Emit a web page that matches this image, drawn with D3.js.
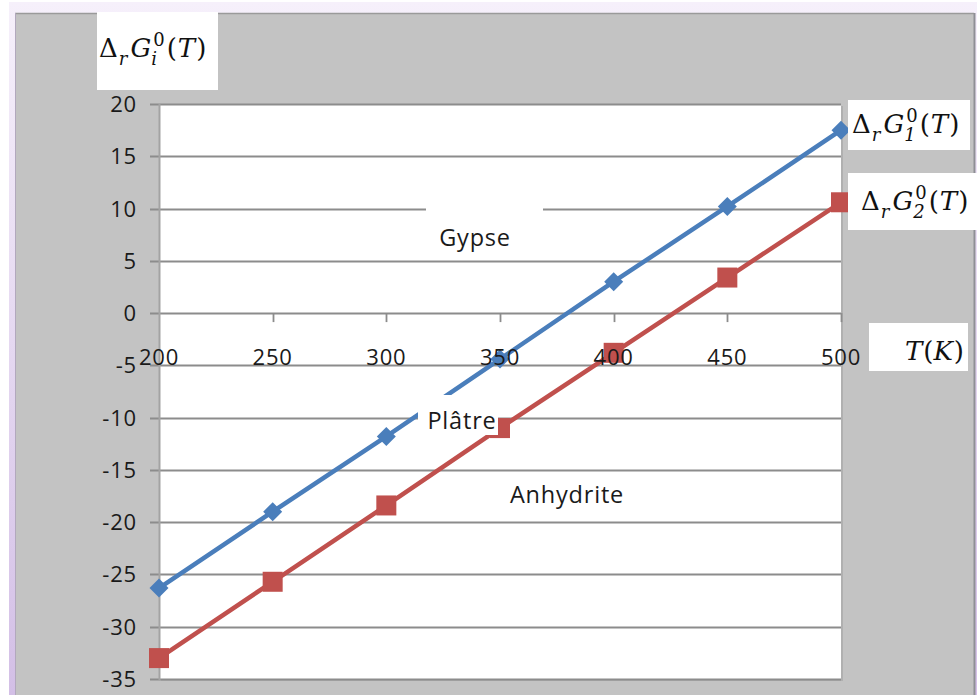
<!DOCTYPE html>
<html><head><meta charset="utf-8">
<script src="https://cdn.jsdelivr.net/npm/d3@7"></script>
<style>html,body{margin:0;padding:0;background:#fff;}svg{display:block;}</style>
</head><body>
<svg id="c" width="977" height="695"></svg>
<script>
// ---- data ----
const temperatures = [200, 250, 300, 350, 400, 450, 500];
const deltaG1 = [-26.3, -19.0, -11.8, -4.4, 3.0, 10.2, 17.5];
const deltaG2 = [-33.0, -25.7, -18.4, -11.0, -3.8, 3.4, 10.6];
const yTickValues = [-35, -30, -25, -20, -15, -10, -5, 0, 5, 10, 15, 20];
const xTickValues = [200, 250, 300, 350, 400, 450, 500];
const regionLabels = ["Gypse", "Plâtre", "Anhydrite"];

const svg = d3.select("#c");
const W = 977, H = 695;
const plot = {left: 159, right: 841, top: 104, bottom: 679};
const x = d3.scaleLinear().domain([200, 500]).range([plot.left, plot.right]);
const y = d3.scaleLinear().domain([-35, 20]).range([plot.bottom, plot.top]);

const tickFont = "'Open Sans', sans-serif";
const mathFont = "'DejaVu Serif', serif";

// frame
const defs = svg.append("defs");
const lg = defs.append("linearGradient").attr("id", "topg").attr("x1", 0).attr("y1", 0).attr("x2", 0).attr("y2", 1);
lg.append("stop").attr("offset", "0").attr("stop-color", "#f6f0fb");
lg.append("stop").attr("offset", "1").attr("stop-color", "#d3bfe6");
svg.append("rect").attr("x", 9).attr("y", 2).attr("width", W - 9).attr("height", H - 2).attr("fill", "url(#topg)");
svg.append("rect").attr("x", 15).attr("y", 13).attr("width", 959).attr("height", H - 13).attr("fill", "#c3c3c3");
svg.append("line").attr("x1", 15).attr("x2", 974).attr("y1", 13.5).attr("y2", 13.5).attr("stroke", "#9a9a9a").attr("stroke-width", 1.5);
svg.append("line").attr("x1", 974.5).attr("x2", 974.5).attr("y1", 13).attr("y2", H).attr("stroke", "#8f8f96").attr("stroke-width", 2);
svg.append("line").attr("x1", 15.5).attr("x2", 15.5).attr("y1", 13).attr("y2", H).attr("stroke", "#b2a8bd").attr("stroke-width", 1);

// plot area
svg.append("rect").attr("x", plot.left + 2).attr("y", plot.top + 2).attr("width", plot.right - plot.left).attr("height", plot.bottom - plot.top)
  .attr("fill", "#9d9d9d").attr("opacity", 0.5);
svg.append("rect").attr("x", plot.left).attr("y", plot.top).attr("width", plot.right - plot.left).attr("height", plot.bottom - plot.top).attr("fill", "#fff");

// gridlines + y ticks
const grid = svg.append("g");
grid.selectAll("line.g").data(yTickValues).join("line")
  .attr("x1", plot.left - 9).attr("x2", plot.right)
  .attr("y1", d => Math.round(y(d)) + 0.5).attr("y2", d => Math.round(y(d)) + 0.5)
  .attr("stroke", "#8c8c8c").attr("stroke-width", 1.8);
// y axis line
svg.append("line").attr("x1", plot.left + 0.5).attr("x2", plot.left + 0.5).attr("y1", plot.top).attr("y2", plot.bottom + 1)
  .attr("stroke", "#a3a3a3").attr("stroke-width", 2);
// x axis ticks (axis sits at 0)
svg.append("g").selectAll("line").data(xTickValues.slice(1)).join("line")
  .attr("x1", d => Math.round(x(d)) + 0.5).attr("x2", d => Math.round(x(d)) + 0.5)
  .attr("y1", y(0)).attr("y2", y(0) + 9)
  .attr("stroke", "#8c8c8c").attr("stroke-width", 1.8);

// y tick labels
svg.append("g").selectAll("text").data(yTickValues).join("text")
  .attr("x", 137).attr("y", d => y(d) + 8)
  .attr("text-anchor", "end").attr("font-family", tickFont).attr("font-size", 22).attr("letter-spacing", 0.8)
  .attr("fill", "#1a1a1a").text(d => d);

// series
const blue = "#4a7ebb", red = "#c0504d";
const line = d3.line().x((d, i) => x(temperatures[i])).y(d => y(d));
svg.append("path").datum(deltaG1).attr("d", line).attr("fill", "none").attr("stroke", blue).attr("stroke-width", 4.5).attr("stroke-linejoin", "round");
svg.append("path").datum(deltaG2).attr("d", line).attr("fill", "none").attr("stroke", red).attr("stroke-width", 4.5).attr("stroke-linejoin", "round");
svg.append("g").selectAll("path").data(deltaG1).join("path")
  .attr("d", (d, i) => { const cx = x(temperatures[i]), cy = y(d), r = 9.5; return `M${cx},${cy - r}L${cx + r},${cy}L${cx},${cy + r}L${cx - r},${cy}Z`; })
  .attr("fill", blue);
svg.append("g").selectAll("rect").data(deltaG2).join("rect")
  .attr("x", (d, i) => x(temperatures[i]) - 10).attr("y", d => y(d) - 10).attr("width", 20).attr("height", 20)
  .attr("fill", red);

// region labels with white boxes
const rl = [
  {t: regionLabels[0], cx: 475, by: 246, box: [426, 200, 117, 55]},
  {t: regionLabels[1], cx: 462, by: 429, box: [418, 395, 80, 40]},
  {t: regionLabels[2], cx: 567, by: 503, box: null}
];
rl.forEach(r => {
  if (r.box) svg.append("rect").attr("x", r.box[0]).attr("y", r.box[1]).attr("width", r.box[2]).attr("height", r.box[3]).attr("fill", "#fff");
  svg.append("text").attr("x", r.cx).attr("y", r.by).attr("text-anchor", "middle")
    .attr("font-family", tickFont).attr("font-size", 23.5).attr("letter-spacing", 0.8).attr("fill", "#1a1a1a").text(r.t);
});

// x tick labels (drawn on top)
svg.append("g").selectAll("text").data(xTickValues).join("text")
  .attr("x", d => x(d)).attr("y", 365)
  .attr("text-anchor", "middle").attr("font-family", tickFont).attr("font-size", 22).attr("letter-spacing", 0.8)
  .attr("fill", "#1a1a1a").text(d => d);

// math labels
function mathLabel(x0, yb, sub, size) {
  const s = size, ss = Math.round(size * 0.68);
  const t = svg.append("text").attr("x", x0).attr("y", yb).attr("font-family", mathFont).attr("font-size", s).attr("fill", "#111");
  const tmp = svg.append("text").attr("font-family", mathFont).attr("font-size", ss).text("0");
  const w0 = tmp.node().getComputedTextLength(); tmp.remove();
  const tmp2 = svg.append("text").attr("font-family", mathFont).attr("font-size", ss).attr("font-style", "italic").text(sub);
  const ws = tmp2.node().getComputedTextLength(); tmp2.remove();
  t.append("tspan").text("Δ");
  t.append("tspan").attr("font-style", "italic").attr("font-size", ss).attr("dy", s * 0.3).attr("dx", 1).text("r");
  t.append("tspan").attr("font-style", "italic").attr("dy", -s * 0.3).attr("dx", 3).text("G");
  t.append("tspan").attr("font-size", ss).attr("dy", -s * 0.42).attr("dx", 2).text("0");
  t.append("tspan").attr("font-style", "italic").attr("font-size", ss).attr("dy", s * 0.74).attr("dx", -w0 - 2).text(sub);
  t.append("tspan").attr("dy", -s * 0.32).attr("dx", Math.max(0, w0 - ws) + 4).text("(");
  t.append("tspan").attr("font-style", "italic").attr("dx", 1).text("T");
  t.append("tspan").attr("dx", 1).text(")");
  return t;
}
function box(x0, y0, w, h) { svg.append("rect").attr("x", x0).attr("y", y0).attr("width", w).attr("height", h).attr("fill", "#fff"); }

box(97, 12, 121, 78); mathLabel(99, 57, "i", 26);
box(848, 100, 122, 50); mathLabel(852, 133, "1", 26);
box(848, 173, 129, 57); mathLabel(861, 210, "2", 26);
box(869, 323, 99, 48);
const tk = svg.append("text").attr("x", 964).attr("y", 360).attr("text-anchor", "end").attr("font-family", mathFont).attr("font-size", 26).attr("fill", "#111");
tk.append("tspan").attr("font-style", "italic").text("T");
tk.append("tspan").attr("dx", 1).text("(");
tk.append("tspan").attr("font-style", "italic").text("K");
tk.append("tspan").attr("dx", 1).text(")");
</script>
</body></html>
